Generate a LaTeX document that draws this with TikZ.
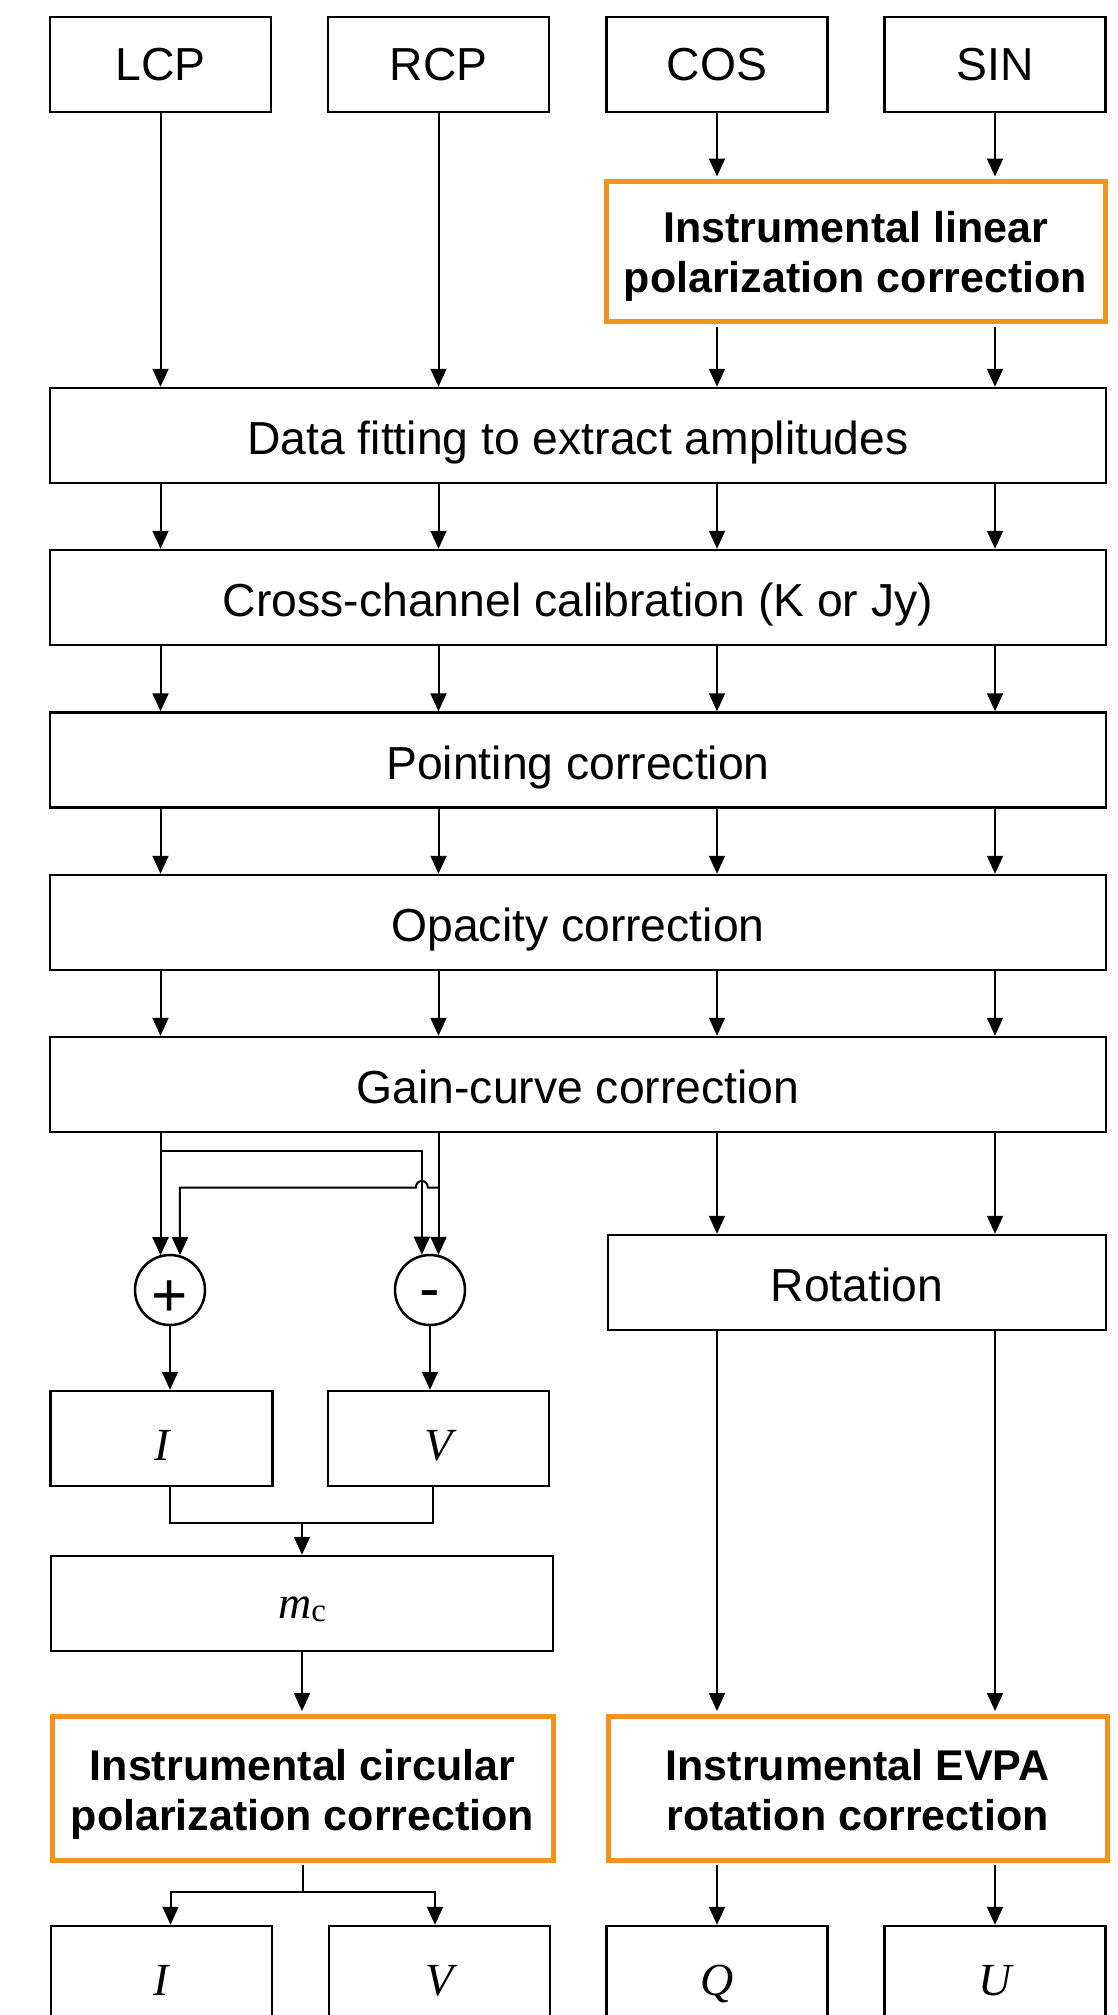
\documentclass[tikz,border=0pt]{standalone}
\usepackage{fontspec}
\setmainfont{Liberation Sans}
\newfontfamily\tmsfont{Liberation Serif}
\usetikzlibrary{arrows.meta,calc}
\definecolor{ocol}{RGB}{243,146,30}
\newcommand\Fnorm{\fontsize{46.3}{52}\selectfont}
\newcommand\Fbold{\fontsize{43}{50}\selectfont\bfseries}
\newcommand\Fital{\fontsize{46}{52}\selectfont\tmsfont\itshape}
\newcommand\Fsign{\fontsize{62}{62}\selectfont}
\tikzset{
  box/.style={draw, line width=2.5pt, inner sep=0pt, font=\Fnorm, text depth=0pt},
  tb/.style={box, minimum width=221pt, minimum height=95pt, text height=32pt},
  wb/.style={box, minimum width=1056pt, minimum height=95pt, text height=38pt},
  ob/.style={draw=ocol, line width=5pt, inner sep=0pt},
  otxt/.style={inner sep=0pt, font=\Fbold, anchor=base},
  ib/.style={draw, line width=2.5pt, inner sep=0pt, font=\Fital, text height=43pt, text depth=0pt, minimum height=95pt},
  sumc/.style={circle, draw, line width=2.5pt, minimum size=70pt, inner sep=0pt, font=\Fsign, text depth=0pt},
  arr/.style={line width=2pt, -{Triangle[length=18pt,width=16pt]}},
  ln/.style={line width=2pt},
}
\begin{document}
\begin{tikzpicture}[x=1pt,y=-1pt]
\useasboundingbox (0,0) rectangle (1118,2015);
\fill[white] (0,0) rectangle (1118,2015);
\clip (0,0) rectangle (1118,2015);

% top row
\node[tb] (lcp) at (160.5,64.5) {LCP};
\node[tb] (rcp) at (438.5,64.5) {RCP};
\node[tb] (cos) at (717,64.5) {COS};
\node[tb] (sin) at (995,64.5) {SIN};

% linear polarization correction
\node[ob, minimum width=499pt, minimum height=140pt] (lin) at (855.5,251.5) {};
\node[otxt] (lin1) at (855.5,242) {Instrumental linear};
\node[otxt] (lin2) at (855.5,292) {polarization correction};

% wide boxes
\node[wb] (data) at (578,435.5) {Data fitting to extract amplitudes};
\node[wb] (cross) at (578,597.5) {Cross-channel calibration (K or Jy)};
\node[wb] (point) at (578,760) {Pointing correction};
\node[wb] (opac) at (578,922.5) {Opacity correction};
\node[wb] (gain) at (578,1084.5) {Gain-curve correction};

\node[box, minimum width=498pt, minimum height=95pt, text height=38pt] (rot) at (857,1282.5) {Rotation};

% sum / difference
\node[sumc, text height=53.8pt] (plus) at (170,1290) {+};
\node[sumc, text height=38.2pt] (minus) at (430,1290) {-};

\node[ib, minimum width=222pt] (ibox) at (161.7,1438.5) {I};
\node[ib, minimum width=221pt] (vbox) at (438.4,1438.5) {V};

\node[ib, minimum width=502pt, text height=29pt] (mc) at (302,1603.5) {m\raisebox{-3pt}{\fontsize{33}{33}\selectfont\upshape c}};

% circular and EVPA corrections
\node[ob, minimum width=501pt, minimum height=144pt] (circ) at (302.5,1788) {};
\node[otxt] (circ1) at (302.5,1780) {Instrumental circular};
\node[otxt] (circ2) at (302.5,1830) {polarization correction};
\node[ob, minimum width=499pt, minimum height=144pt] (evpa) at (857.5,1788) {};
\node[otxt] (evpa1) at (857.5,1780) {Instrumental EVPA};
\node[otxt] (evpa2) at (857.5,1830) {rotation correction};

% outputs
\node[ib, minimum width=221pt] (iout) at (161.5,1973.5) {I};
\node[ib, minimum width=221pt] (vout) at (439.5,1973.5) {V};
\node[ib, minimum width=221pt] (qout) at (717,1973.5) {Q};
\node[ib, minimum width=221pt] (uout) at (995,1973.5) {U};

% connectors: top
\foreach \c in {lcp,rcp}
  \draw[arr] (\c.south) -- (\c.south |- data.north);
\foreach \c in {cos,sin}{
  \draw[arr, shorten >=2.5pt] (\c.south) -- (\c.south |- lin.north);
  \draw[arr, shorten <=2.5pt] (\c.south |- lin.south) -- (\c.south |- data.north);
}
\foreach \a/\b in {data/cross, cross/point, point/opac, opac/gain}
  \foreach \c in {lcp,rcp,cos,sin}
    \draw[arr] (\c.south |- \a.south) -- (\c.south |- \b.north);

% right branch
\foreach \c in {cos,sin}{
  \draw[arr] (\c.south |- gain.south) -- (\c.south |- rot.north);
  \draw[arr, shorten >=2.5pt] (\c.south |- rot.south) -- (\c.south |- evpa.north);
  \draw[arr, shorten <=2.5pt] (\c.south |- evpa.south) -- (\c.south |- qout.north);
}

% left branch: crossing
\coordinate (j1) at (160.5,1151);
\coordinate (j2) at (438.5,1187.7);
\draw[arr] (lcp.south |- gain.south) -- (lcp.south |- plus.106);
\draw[arr] (rcp.south |- gain.south) -- (rcp.south |- minus.76);
\draw[arr] (j1) -| (minus.103);
\draw[arr] (j2) -- ($(minus.103 |- j2)+(6,0)$) .. controls +(0,-9) and +(0,-9) .. ($(minus.103 |- j2)+(-6,0)$) -- (plus.74 |- j2) -- (plus.74);

\draw[arr] (plus.south) -- (plus.south |- ibox.north);
\draw[arr] (minus.south) -- (minus.south |- vbox.north);

\coordinate (jI) at (170,1522.7);
\coordinate (jV) at (433,1522.7);
\draw[ln] (jI |- ibox.south) -- (jI) -- (jV) -- (jV |- vbox.south);
\draw[arr] (mc.north |- jI) -- (mc.north);
\draw[arr, shorten >=2.5pt] (mc.south) -- (mc.south |- circ.north);

\coordinate (bI) at (170.5,1891.7);
\coordinate (bV) at (435,1891.7);
\draw[ln, shorten <=2.5pt] (circ.south) -- (circ.south |- bI);
\draw[line width=2pt, {Triangle[length=18pt,width=16pt]}-{Triangle[length=18pt,width=16pt]}] (bI |- iout.north) -- (bI) -- (bV) -- (bV |- vout.north);
\end{tikzpicture}
\end{document}
